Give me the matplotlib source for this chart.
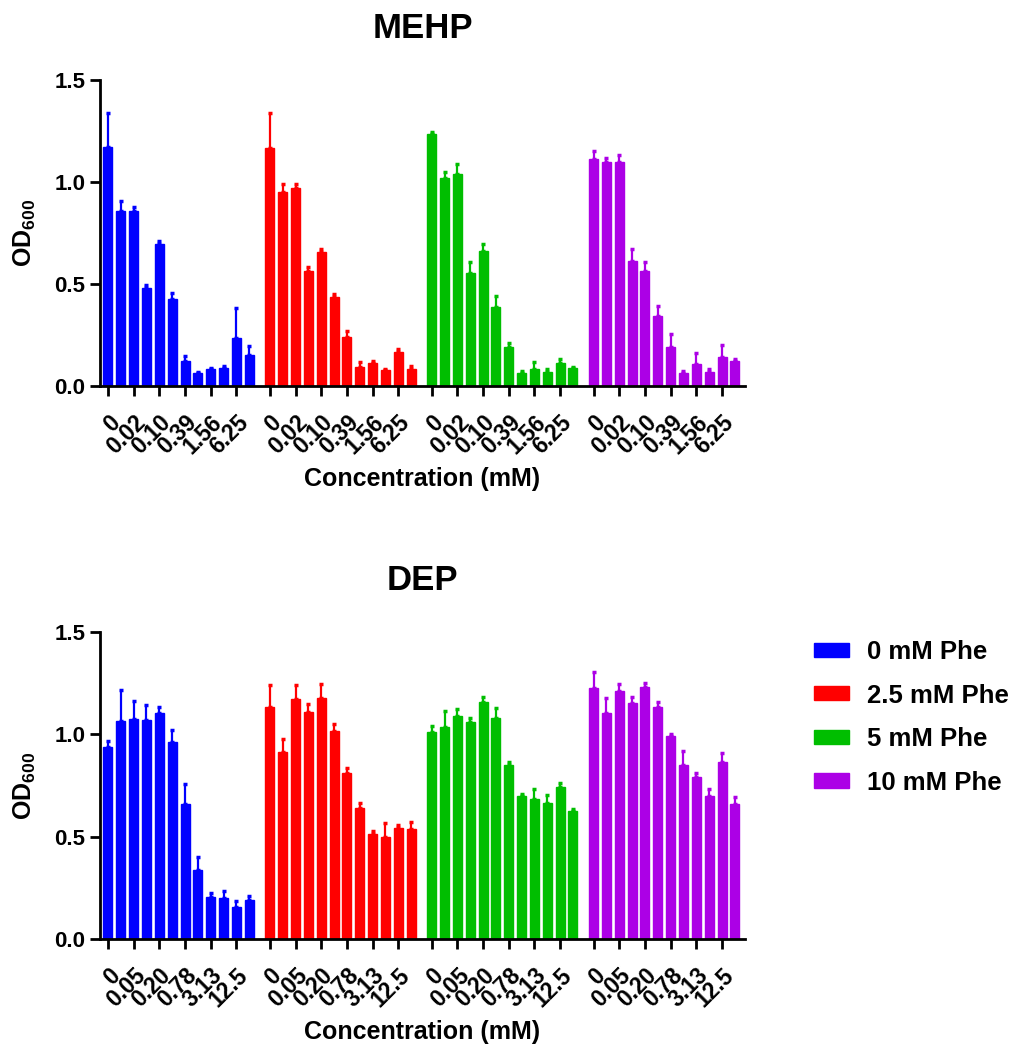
import numpy as np
import matplotlib
matplotlib.use("Agg")
import matplotlib.pyplot as plt
from matplotlib.patches import Patch

plt.rcParams['font.family'] = ['Liberation Sans', 'DejaVu Sans']
plt.rcParams['font.weight'] = 'bold'
plt.rcParams['axes.labelweight'] = 'bold'
plt.rcParams['axes.titleweight'] = 'bold'
plt.rcParams['mathtext.fontset'] = 'custom'
plt.rcParams['mathtext.bf'] = 'Liberation Sans:bold'
plt.rcParams['mathtext.rm'] = 'Liberation Sans:bold'
plt.rcParams['mathtext.default'] = 'bf'

groups = ['0 mM Phe', '2.5 mM Phe', '5 mM Phe', '10 mM Phe']
colors = ['#0000FF', '#FF0000', '#00BE00', '#AC00E6']

mehp_conc = ['0', '0.01', '0.02', '0.05', '0.10', '0.20', '0.39', '0.78', '1.56', '3.13', '6.25', '12.5']
dep_conc = ['0', '0.025', '0.05', '0.10', '0.20', '0.39', '0.78', '1.56', '3.13', '6.25', '12.5', '25']

# MEHP mean OD600 and SD (upper error only shown)
mehp_mean = [
    [1.17, 0.858, 0.858, 0.479, 0.696, 0.425, 0.123, 0.062, 0.082, 0.087, 0.234, 0.152],
    [1.165, 0.953, 0.969, 0.565, 0.658, 0.438, 0.242, 0.095, 0.111, 0.078, 0.165, 0.082],
    [1.234, 1.021, 1.039, 0.552, 0.663, 0.389, 0.19, 0.062, 0.083, 0.07, 0.114, 0.087],
    [1.111, 1.10, 1.096, 0.614, 0.564, 0.343, 0.193, 0.065, 0.108, 0.07, 0.144, 0.123],
]
mehp_sd = [
    [0.17, 0.05, 0.02, 0.015, 0.015, 0.03, 0.025, 0.005, 0.008, 0.012, 0.147, 0.046],
    [0.175, 0.037, 0.02, 0.02, 0.013, 0.013, 0.03, 0.021, 0.011, 0.007, 0.016, 0.016],
    [0.013, 0.03, 0.05, 0.054, 0.033, 0.052, 0.02, 0.013, 0.033, 0.012, 0.017, 0.008],
    [0.041, 0.016, 0.036, 0.056, 0.042, 0.049, 0.06, 0.01, 0.052, 0.015, 0.057, 0.008],
]

# DEP mean OD600 and SD
dep_mean = [
    [0.94, 1.065, 1.075, 1.07, 1.106, 0.964, 0.66, 0.337, 0.207, 0.202, 0.158, 0.19],
    [1.135, 0.915, 1.173, 1.111, 1.179, 1.016, 0.813, 0.642, 0.511, 0.50, 0.544, 0.537],
    [1.01, 1.034, 1.091, 1.062, 1.159, 1.081, 0.85, 0.70, 0.684, 0.663, 0.744, 0.627],
    [1.225, 1.106, 1.213, 1.152, 1.23, 1.135, 0.992, 0.85, 0.793, 0.699, 0.866, 0.66],
]
dep_sd = [
    [0.027, 0.152, 0.088, 0.072, 0.026, 0.057, 0.097, 0.065, 0.016, 0.032, 0.028, 0.022],
    [0.106, 0.061, 0.068, 0.037, 0.067, 0.033, 0.024, 0.021, 0.017, 0.065, 0.013, 0.036],
    [0.031, 0.081, 0.033, 0.016, 0.022, 0.046, 0.013, 0.008, 0.047, 0.041, 0.02, 0.007],
    [0.078, 0.07, 0.031, 0.032, 0.019, 0.021, 0.01, 0.069, 0.017, 0.032, 0.041, 0.035],
]

fig = plt.figure(figsize=(10.16, 10.51), dpi=100)
ax1 = fig.add_axes([0.0984, 0.6327, 0.635, 0.2911])
ax2 = fig.add_axes([0.0984, 0.1066, 0.635, 0.2921])

step = 12.6  # group spacing in bar slots


def draw(ax, title, means, sds, conc):
    ticks = []
    labels = []
    for g in range(len(groups)):
        x = g * step + np.arange(len(conc))
        m = np.array(means[g])
        s = np.array(sds[g])
        ax.bar(x, m, width=0.7, color=colors[g], edgecolor=colors[g], linewidth=1)
        ax.errorbar(x, m, yerr=[np.zeros_like(s), s], fmt='none', ecolor=colors[g],
                    elinewidth=1.6, capsize=1.6, capthick=2.5)
        ticks += list(x[::2])
        labels += conc[::2]
    ax.set_xticks(ticks)
    ax.set_xticklabels(labels, rotation=45, ha='right', va='top',
                       rotation_mode='anchor', fontsize=16.5, fontweight='bold')
    ax.set_xlim(-0.62, 3 * step + 11 + 0.8)
    ax.set_ylim(0, 1.5)
    ax.set_yticks([0, 0.5, 1.0, 1.5])
    ax.set_yticklabels(['0.0', '0.5', '1.0', '1.5'], fontsize=16, fontweight='bold')
    ax.spines['top'].set_visible(False)
    ax.spines['right'].set_visible(False)
    for sp in ['left', 'bottom']:
        ax.spines[sp].set_linewidth(2)
    ax.tick_params(width=2, length=7)
    ax.tick_params(axis='x', pad=11)
    ax.set_title(title, fontsize=25, fontweight='bold', pad=30)
    ax.set_xlabel('Concentration (mM)', fontsize=18, fontweight='bold', labelpad=6)
    ax.set_ylabel(r'OD$_{600}$', fontsize=18, fontweight='bold', labelpad=12)


draw(ax1, 'MEHP', mehp_mean, mehp_sd, mehp_conc)
draw(ax2, 'DEP', dep_mean, dep_sd, dep_conc)

handles = [Patch(facecolor=c, edgecolor=c) for c in colors]
fig.legend(handles, groups, loc='upper left', bbox_to_anchor=(814 / 1016, 1 - 640 / 1051),
           frameon=False, prop={'weight': 'bold', 'size': 18.5},
           handlelength=1.36, handleheight=0.47, handletextpad=0.7,
           labelspacing=0.76, borderpad=0, borderaxespad=0)

fig.savefig('out.png', dpi=100)
